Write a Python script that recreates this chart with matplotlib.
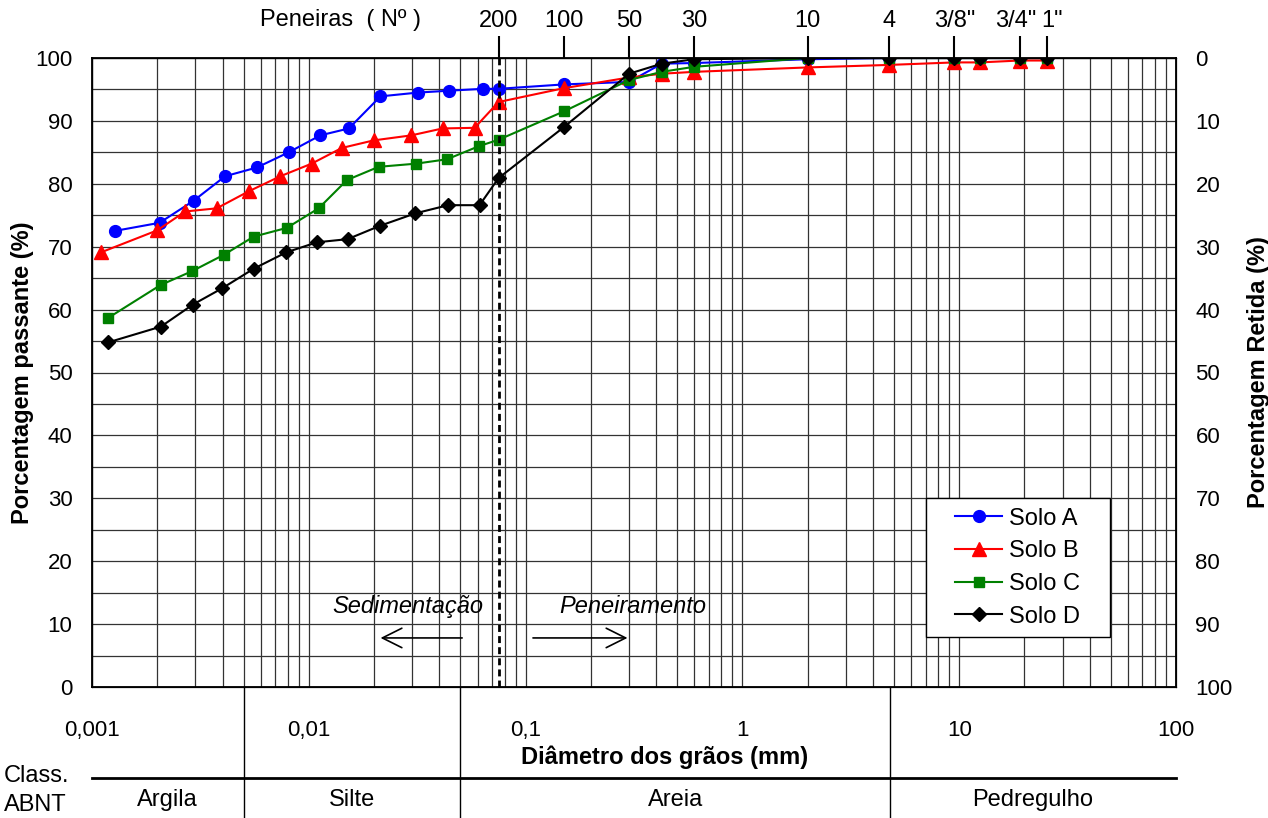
import matplotlib
matplotlib.use('Agg')
import matplotlib.pyplot as plt
from matplotlib.ticker import FixedLocator, MultipleLocator, NullLocator, NullFormatter
from matplotlib.transforms import blended_transform_factory, ScaledTranslation
from matplotlib.patches import Rectangle

plt.rcParams['font.family'] = ['Liberation Sans', 'DejaVu Sans']

# diametro (mm) e porcentagem passante de cada solo
diam_a = [0.00127, 0.00205, 0.00294, 0.00411, 0.00577, 0.00807, 0.0113, 0.0153, 0.0214, 0.0318,
          0.0443, 0.0634, 0.075, 0.15, 0.3, 0.425, 0.6, 2.0, 4.75, 9.5, 12.5, 19.0, 25.4]
pass_a = [72.5, 73.8, 77.3, 81.2, 82.6, 85.0, 87.7, 88.8, 93.9, 94.5,
          94.8, 95.1, 95.1, 95.8, 96.2, 99.1, 99.2, 99.8, 100, 100, 100, 100, 100]

diam_b = [0.0011, 0.002, 0.00269, 0.00376, 0.00528, 0.00739, 0.0103, 0.0142, 0.0199, 0.0297,
          0.0414, 0.0582, 0.075, 0.15, 0.3, 0.425, 0.6, 2.0, 4.75, 9.5, 12.5, 19.0, 25.4]
pass_b = [69.1, 72.6, 75.6, 76.1, 78.8, 81.2, 83.2, 85.7, 86.9, 87.7,
          88.8, 88.9, 93.0, 95.2, 96.9, 97.5, 97.8, 98.5, 98.9, 99.3, 99.3, 99.6, 99.6]

diam_c = [0.00119, 0.00207, 0.00289, 0.00405, 0.00557, 0.00793, 0.0111, 0.015, 0.021, 0.0312,
          0.0434, 0.0611, 0.075, 0.15, 0.3, 0.425, 0.6, 2.0, 4.75, 9.5, 12.5, 19.0, 25.4]
pass_c = [58.7, 63.9, 66.1, 68.7, 71.6, 73.0, 76.1, 80.6, 82.7, 83.2,
          83.9, 86.0, 87.0, 91.5, 96.5, 97.8, 98.6, 100, 100, 100, 100, 100, 100]

diam_d = [0.00119, 0.00208, 0.00292, 0.00399, 0.00557, 0.00787, 0.0109, 0.0151, 0.0212, 0.031,
          0.0439, 0.0613, 0.075, 0.15, 0.3, 0.425, 0.6, 2.0, 4.75, 9.5, 12.5, 19.0, 25.4]
pass_d = [54.8, 57.3, 60.8, 63.4, 66.5, 69.1, 70.7, 71.2, 73.3, 75.3,
          76.6, 76.6, 80.9, 89.0, 97.5, 99.1, 99.8, 100, 100, 100, 100, 100, 100]

# peneiras (abertura em mm) e rotulos
sieve_mm = [0.075, 0.15, 0.3, 0.6, 2.0, 4.75, 9.5, 19.0, 25.4]
sieve_labels = ['200', '100', '50', '30', '10', '4', '3/8"', '3/4"', '1"']

# classificacao ABNT
class_limits = [0.001, 0.005, 0.05, 4.8, 100]
class_names = ['Argila', 'Silte', 'Areia', 'Pedregulho']

x_ticks = [0.001, 0.01, 0.1, 1, 10, 100]
x_ticklabels = ['0,001', '0,01', '0,1', '1', '10', '100']

W, H = 1268, 818
fig = plt.figure(figsize=(W / 100, H / 100), dpi=100)
ax = fig.add_axes([92 / W, 1 - 687 / H, 1084 / W, 629 / H])

fs = 16   # numeros dos eixos
ft = 17   # demais textos
fb = 17   # titulos em negrito
ax.set_xscale('log')
ax.set_xlim(0.001, 100)
ax.set_ylim(0, 100)
ax.xaxis.set_major_locator(FixedLocator(x_ticks))
ax.set_xticklabels(x_ticklabels)
ax.xaxis.set_minor_locator(FixedLocator([m * 10.0 ** e for e in range(-3, 2) for m in range(2, 10)]))
ax.xaxis.set_minor_formatter(NullFormatter())
ax.yaxis.set_major_locator(MultipleLocator(10))
ax.yaxis.set_minor_locator(MultipleLocator(5))
ax.tick_params(which='both', length=0, labelsize=fs)
ax.tick_params(axis='x', pad=24)
ax.tick_params(axis='y', pad=14)
ax.grid(which='both', color='0.2', lw=0.9)
ax.set_axisbelow(True)
for s in ax.spines.values():
    s.set_linewidth(1.3)

ax.plot(diam_a, pass_a, color='#0000FF', marker='o', ms=8.5, lw=1.5, label='Solo A')
ax.plot(diam_b, pass_b, color='#FF0000', marker='^', ms=9.5, lw=1.5, label='Solo B')
ax.plot(diam_c, pass_c, color='#008000', marker='s', ms=7.5, lw=1.5, label='Solo C')
ax.plot(diam_d, pass_d, color='black', marker='D', ms=7, lw=1.5, label='Solo D')

ax.axvline(0.075, color='black', lw=2, ls=(0, (2.5, 1.5)))

ax.set_ylabel('Porcentagem passante (%)', fontsize=fb, fontweight='bold', labelpad=1)

# setas de sedimentacao / peneiramento
arrow = dict(arrowstyle='->,head_length=0.7,head_width=0.35', lw=1.2, color='black', mutation_scale=20)
ax.annotate('', xy=(0.0208, 7.8), xytext=(0.0525, 7.8), arrowprops=arrow)
ax.annotate('', xy=(0.304, 7.8), xytext=(0.105, 7.8), arrowprops=arrow)
ax.text(0.0285, 12.8, 'Sedimentação', fontsize=ft, style='italic', ha='center', va='center')
ax.text(0.311, 12.8, 'Peneiramento', fontsize=ft, style='italic', ha='center', va='center')

# legenda
ax.add_patch(Rectangle((0.769, 0.0795), 0.17, 0.2205, transform=ax.transAxes,
                       facecolor='white', edgecolor='black', lw=1, zorder=4))
leg = ax.legend(loc='center', bbox_to_anchor=(0.769, 0.0795, 0.17, 0.2205), frameon=False,
                fontsize=ft, handlelength=2.0, handletextpad=0.3, labelspacing=0.45, borderpad=0)
leg.set_zorder(5)

# eixo direito: porcentagem retida
ax2 = ax.twinx()
ax2.set_ylim(100, 0)
ax2.yaxis.set_major_locator(MultipleLocator(10))
ax2.tick_params(length=0, labelsize=fs, pad=14)
ax2.set_ylabel('Porcentagem Retida (%)', fontsize=fb, fontweight='bold', labelpad=10)

# eixo superior: peneiras
ax3 = ax.twiny()
ax3.set_xscale('log')
ax3.set_xlim(0.001, 100)
ax3.xaxis.set_major_locator(FixedLocator(sieve_mm))
ax3.set_xticklabels(sieve_labels)
ax3.xaxis.set_minor_locator(NullLocator())
ax3.tick_params(axis='x', direction='out', length=16, width=1.5, labelsize=ft, pad=3)
# afasta um pouco os rotulos 3/4" e 1" que ficam muito proximos
ticks_top = ax3.xaxis.get_major_ticks()
for t, dx in [(ticks_top[7], -4), (ticks_top[8], 5)]:
    t.label2.set_transform(t.label2.get_transform() + ScaledTranslation(dx / 100, 0, fig.dpi_scale_trans))
fig.text(340 / W, 1 - 20 / H, 'Peneiras  ( Nº )', fontsize=ft, ha='center', va='center')

# classificacao ABNT abaixo do grafico
tr = blended_transform_factory(ax.transData, ax.transAxes)
y_bottom = -(H - 687) / 629
y_line = -(778 - 687) / 629
y_names = -(800 - 687) / 629
for lim in class_limits[1:-1]:
    ax.plot([lim, lim], [0, y_bottom], color='black', lw=1, transform=tr, clip_on=False)
ax.plot([0.001, 100], [y_line, y_line], color='black', lw=2, transform=tr, clip_on=False)
for i, name in enumerate(class_names):
    xc = (class_limits[i] * class_limits[i + 1]) ** 0.5
    ax.text(xc, y_names, name, fontsize=ft, ha='center', va='center', transform=tr)

fig.text(665 / W, 1 - 757 / H, 'Diâmetro dos grãos (mm)', fontsize=fb, fontweight='bold',
         ha='center', va='center')
fig.text(4 / W, 1 - 776 / H, 'Class.', fontsize=ft, ha='left', va='center')
fig.text(4 / W, 1 - 805 / H, 'ABNT', fontsize=ft, ha='left', va='center')

fig.savefig('out.png', dpi=100)
